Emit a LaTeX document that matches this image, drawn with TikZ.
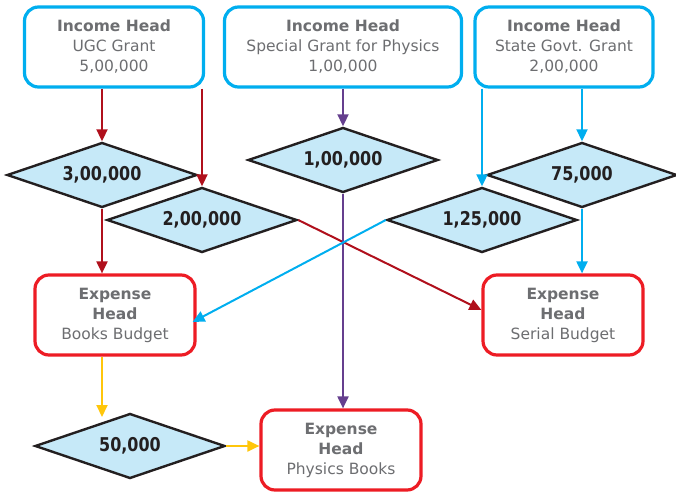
\documentclass[tikz,border=0pt]{standalone}
\usepackage{fontspec}
\setmainfont{DejaVu Sans}
\newfontfamily\amountfont[FakeStretch=0.84]{DejaVu Sans}
\usetikzlibrary{shapes.geometric,arrows.meta}
\definecolor{incblue}{HTML}{00AEEF}
\definecolor{expred}{HTML}{ED1C24}
\definecolor{flowred}{HTML}{B0101C}
\definecolor{flowpurple}{HTML}{653F8E}
\definecolor{flowyellow}{HTML}{FFC60B}
\definecolor{diafill}{HTML}{C6E9F8}
\definecolor{dkline}{HTML}{231F20}
\definecolor{txtgrey}{HTML}{6D6E71}

\begin{document}
\begin{tikzpicture}[x=1pt,y=-1pt,
    headbox/.style={rounded corners=14pt,line width=3.2pt,fill=white,align=center,
        text=txtgrey,minimum height=80pt,inner sep=2pt,font=\fontsize{15.5}{20}\selectfont},
    inbox/.style={headbox,draw=incblue},
    exbox/.style={headbox,draw=expred,minimum width=160pt},
    amount/.style={diamond,aspect=2.9,draw=dkline,line width=2.4pt,fill=diafill,minimum width=190pt,
        minimum height=65pt,inner sep=0pt,text=dkline,font=\amountfont\fontsize{19}{20}\selectfont\bfseries},
    flow/.style={line width=2pt,-{Triangle[length=12pt,width=11pt]}}]
                \useasboundingbox (0,0) rectangle (676,494);
                % income heads
                \node[inbox,minimum width=179pt] (ugc) at (114,47) {\textbf{Income Head}\\UGC Grant\\5,00,000};
                \node[inbox,minimum width=237pt] (spl) at (343,47) {\textbf{Income Head}\\Special Grant for Physics\\1,00,000};
                \node[inbox,minimum width=178pt] (state) at (564,47) {\textbf{Income Head}\\State Govt. Grant\\2,00,000};
                % amounts
                \node[amount] (a300) at (102,175) {3,00,000};
                \node[amount] (a200) at (202,220) {2,00,000};
                \node[amount] (a100) at (343,160) {1,00,000};
                \node[amount] (a125) at (482,220) {1,25,000};
                \node[amount] (a75) at (582,175) {75,000};
                \node[amount] (a50) at (130,446) {50,000};
                % expense heads
                \node[exbox] (books) at (115,315) {\textbf{Expense}\\\textbf{Head}\\Books Budget};
                \node[exbox] (serial) at (563,315) {\textbf{Expense}\\\textbf{Head}\\Serial Budget};
                \node[exbox] (phys) at (341,450) {\textbf{Expense}\\\textbf{Head}\\Physics Books};
                \coordinate (a50in) at (102,417);
                % flows
                \draw[flow,flowred] (ugc.south -| a300) -- (a300.north);
                \draw[flow,flowred] (ugc.south -| a200) -- (a200.north);
                \draw[flow,flowred] (a300.south) -- (a300.south |- books.north);
                \draw[flow,flowred] (a200.east) -- ([yshift=5pt]serial.west);
                \draw[flow,flowpurple] (spl.south) -- (a100.north);
                \draw[flow,flowpurple] (a100.south) -- (a100.south |- phys.north);
                \draw[flow,incblue] (state.south -| a125) -- (a125.north);
                \draw[flow,incblue] (state.south -| a75) -- (a75.north);
                \draw[flow,incblue] (a75.south) -- (a75.south |- serial.north);
                \draw[flow,incblue] (a125.west) -- ([yshift=-7pt,xshift=-4pt]books.east);
                \draw[flow,flowyellow] (books.south -| a50in) -- (a50in);
                \draw[flow,flowyellow] (a50.east) -- (a50.east -| phys.west);
\end{tikzpicture}
\end{document}
